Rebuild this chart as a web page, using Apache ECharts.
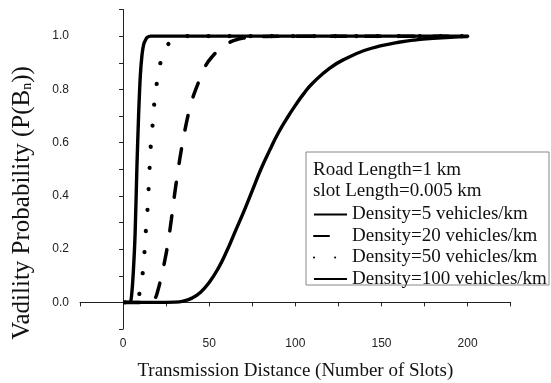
<!DOCTYPE html>
<html>
<head>
<meta charset="utf-8">
<script src="https://cdn.jsdelivr.net/npm/echarts@6/dist/echarts.min.js"></script>
<style>
html,body{margin:0;padding:0;background:#fff;}
#c{width:551px;height:383px;}
</style>
</head>
<body>
<div id="c"></div>
<script>
var seriesNames = ['Density=5 vehicles/km', 'Density=20 vehicles/km', 'Density=50 vehicles/km', 'Density=100 vehicles/km'];
var infoLines = ['Road Length=1 km', 'slot Length=0.005 km'];
var xTickLabels = [0, 50, 100, 150, 200];
var yTickLabels = ['0.0', '0.2', '0.4', '0.6', '0.8', '1.0'];

var density5 = [[1,0],[10,0],[20,0],[30,0.001],[35,0.005],[40,0.016],[45,0.038],[50,0.075],[55,0.125],[60,0.19],[65,0.265],[70,0.34],[75,0.42],[80,0.5],[85,0.57],[90,0.635],[95,0.69],[100,0.74],[105,0.785],[110,0.823],[120,0.88],[130,0.918],[140,0.946],[150,0.964],[160,0.977],[170,0.986],[180,0.992],[190,0.996],[200,0.998]];
var density20 = [[1,0],[10,0],[17,0],[19,0.02],[20,0.04],[22,0.09],[24,0.15],[26,0.22],[28,0.31],[30,0.41],[32,0.5],[34,0.58],[36,0.65],[38,0.71],[40,0.76],[44,0.83],[48,0.89],[52,0.925],[56,0.95],[60,0.97],[65,0.985],[70,0.993],[80,0.998],[90,1],[200,1]];
var density50 = [[1,0],[8,0],[9,0.02],[10,0.05],[11,0.09],[12,0.15],[13,0.25],[14,0.33],[15,0.45],[16,0.58],[17,0.655],[18,0.74],[19,0.795],[20,0.84],[22,0.91],[23,0.932],[25,0.96],[27,0.975],[30,0.99],[35,0.998],[40,1],[200,1]];
var density100 = [[1,0],[4,0],[5,0.03],[6,0.12],[7,0.26],[8,0.5],[9,0.7],[10,0.85],[11,0.93],[12,0.97],[13,0.985],[14,0.995],[16,1],[200,1]];

var chart = echarts.init(document.getElementById('c'));
var serif = '"Liberation Serif","Times New Roman",serif';
var sans = '"Liberation Sans",Arial,sans-serif';
var axisColor = '#222';

function mkSeries(name, data, lineStyle, smooth) {
  return {
    name: name, type: 'line', data: data, symbol: 'none',
    smooth: smooth,
    lineStyle: Object.assign({color: '#000', width: 3.4}, lineStyle),
    itemStyle: {color: '#000'},
    animation: false
  };
}

chart.setOption({
  backgroundColor: '#fff',
  animation: false,
  grid: {left: 80, right: 40.3, top: 9.5, bottom: 54, containLabel: false, outerBoundsMode: 'none'},
  xAxis: {
    type: 'value', min: -25, max: 225, interval: 25,
    name: 'Transmission Distance (Number of Slots)',
    nameLocation: 'middle', nameGap: 33,
    nameTextStyle: {fontFamily: serif, fontSize: 19, color: '#111'},
    axisLine: {lineStyle: {color: axisColor, width: 1}},
    axisTick: {show: true, length: 4, inside: false, lineStyle: {color: axisColor}},
    axisLabel: {
      fontFamily: sans, fontSize: 12, color: '#222', margin: 9,
      formatter: function (v) {
        var r = Math.round(v);
        return xTickLabels.indexOf(r) >= 0 ? String(r) : '';
      }
    },
    splitLine: {show: false}
  },
  yAxis: {
    type: 'value', min: -0.1, max: 1.1, interval: 0.1,
    axisLine: {show: true, lineStyle: {color: axisColor, width: 1}},
    axisTick: {show: true, length: 4, inside: false, lineStyle: {color: axisColor}},
    axisLabel: {
      fontFamily: sans, fontSize: 12, color: '#222', margin: 11,
      formatter: function (v) {
        var s = (Math.round(v * 10) / 10).toFixed(1);
        return yTickLabels.indexOf(s) >= 0 ? s : '';
      }
    },
    splitLine: {show: false}
  },
  legend: {
    orient: 'vertical', left: 313, top: 205, padding: 0,
    itemWidth: 33, itemHeight: 14, itemGap: 2.5,
    itemStyle: {opacity: 0},
    textStyle: {fontFamily: serif, fontSize: 19, lineHeight: 19, color: '#111'},
    data: seriesNames
  },
  graphic: [
    {type: 'rect', shape: {x: 306, y: 152, width: 243, height: 133}, style: {fill: 'none', stroke: '#888', lineWidth: 1}, z: 0},
    {type: 'text', x: 313, y: 170, style: {text: infoLines[0], font: '19px ' + serif, fill: '#111', textVerticalAlign: 'middle'}},
    {type: 'text', x: 313, y: 191.5, style: {text: infoLines[1], font: '19px ' + serif, fill: '#111', textVerticalAlign: 'middle'}},
    {type: 'text', x: 22, y: 203, rotation: Math.PI / 2,
      style: {
        text: '{a|Vadility Probability (P(B}{s|n}{a|))}',
        rich: {
          a: {fontFamily: serif, fontSize: 25, fill: '#111', verticalAlign: 'bottom'},
          s: {fontFamily: serif, fontSize: 14, fill: '#111', verticalAlign: 'bottom'}
        },
        textAlign: 'center', textVerticalAlign: 'middle'
      }}
  ],
  series: [
    mkSeries(seriesNames[0], density5, {type: 'solid'}, 0.5),
    mkSeries(seriesNames[1], density20, {type: [15, 19], cap: 'round', width: 3.5}, 0.4),
    mkSeries(seriesNames[2], density50, {type: [0.1, 21], cap: 'round', width: 4.2}, 0.4),
    mkSeries(seriesNames[3], density100, {type: 'solid'}, 0.3)
  ]
});
</script>
</body>
</html>
